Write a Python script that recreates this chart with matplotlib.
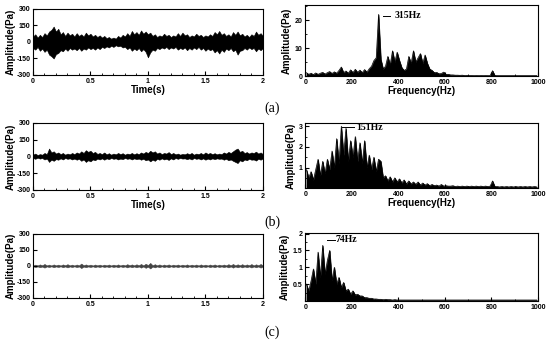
import numpy as np
import matplotlib.pyplot as plt
from matplotlib.ticker import MultipleLocator, FixedLocator

plt.rcParams['font.family'] = ['Liberation Sans', 'DejaVu Sans']

# time signals, upper / lower envelope read every 0.02 s (Pa)
time_s = np.linspace(0, 2, 101)
sig_a_hi = [50, 70, 40, 65, 45, 80, 60, 95, 110, 140, 95, 120, 70, 90, 55, 85, 60, 75, 50, 80,
            55, 70, 50, 85, 60, 75, 50, 65, 45, 60, 40, 55, 35, 45, 30, 40, 30, 55, 40, 65,
            50, 80, 55, 100, 70, 90, 65, 105, 75, 95, 70, 85, 55, 70, 45, 60, 50, 75, 55, 65,
            45, 60, 50, 80, 55, 85, 60, 70, 45, 60, 50, 75, 55, 65, 45, 60, 50, 70, 55, 90,
            70, 100, 65, 80, 55, 70, 50, 90, 65, 95, 60, 75, 50, 65, 45, 70, 55, 95, 65, 80, 55]
sig_a_lo = [-55, -70, -45, -80, -60, -90, -70, -115, -130, -150, -110, -100, -75, -85, -60, -80, -55, -70, -60, -75,
            -55, -80, -60, -70, -50, -65, -55, -70, -50, -65, -45, -55, -40, -50, -35, -45, -30, -40, -35, -50,
            -45, -65, -50, -80, -60, -75, -55, -85, -65, -90, -140, -95, -70, -80, -55, -65, -50, -60, -45, -65,
            -50, -60, -45, -70, -55, -65, -50, -75, -55, -70, -50, -65, -45, -70, -55, -80, -60, -75, -65, -95,
            -75, -105, -70, -90, -60, -75, -55, -85, -70, -115, -80, -75, -55, -70, -50, -65, -55, -85, -60, -75, -55]
sig_b_hi = [15, 25, 12, 20, 15, 30, 20, 70, 35, 45, 25, 35, 20, 30, 15, 25, 18, 30, 20, 35,
            25, 45, 30, 55, 40, 50, 30, 40, 22, 30, 20, 35, 18, 28, 15, 25, 18, 30, 20, 28,
            15, 25, 20, 30, 18, 28, 20, 35, 25, 40, 30, 50, 35, 45, 25, 35, 20, 30, 25, 38,
            20, 30, 18, 25, 15, 22, 18, 28, 20, 30, 15, 25, 20, 30, 18, 35, 22, 30, 20, 28,
            18, 25, 20, 35, 25, 40, 30, 45, 60, 70, 40, 50, 30, 38, 25, 35, 30, 42, 25, 35, 20]
sig_b_lo = [-15, -22, -12, -20, -15, -28, -20, -50, -30, -40, -25, -30, -18, -28, -15, -22, -18, -28, -20, -30,
            -22, -40, -28, -50, -35, -45, -28, -35, -20, -28, -18, -30, -18, -25, -15, -22, -18, -28, -20, -25,
            -15, -22, -18, -28, -18, -25, -20, -30, -22, -35, -28, -45, -30, -40, -22, -30, -18, -28, -22, -32,
            -18, -28, -15, -22, -15, -20, -18, -25, -18, -28, -15, -22, -18, -28, -18, -30, -20, -28, -18, -25,
            -18, -22, -20, -30, -22, -35, -28, -40, -50, -60, -35, -45, -28, -35, -22, -30, -28, -38, -22, -30, -18]
sig_c_hi = [4, 12, 5, 14, 6, 18, 5, 12, 4, 14, 5, 12, 4, 14, 6, 16, 5, 12, 4, 13,
            5, 22, 6, 14, 5, 12, 4, 13, 5, 12, 4, 12, 5, 13, 4, 12, 5, 14, 4, 12,
            5, 16, 6, 14, 5, 15, 6, 18, 5, 20, 8, 28, 6, 16, 5, 14, 4, 13, 5, 14,
            4, 12, 5, 13, 4, 12, 5, 14, 4, 12, 5, 13, 4, 14, 5, 12, 4, 13, 5, 14,
            4, 12, 5, 13, 5, 16, 6, 18, 5, 15, 6, 16, 5, 14, 6, 17, 5, 15, 6, 18, 5]
sig_c_lo = [-4, -10, -5, -12, -6, -16, -5, -10, -4, -12, -5, -10, -4, -12, -5, -14, -5, -10, -4, -11,
            -5, -20, -6, -12, -5, -10, -4, -11, -5, -10, -4, -10, -5, -11, -4, -10, -5, -12, -4, -10,
            -5, -14, -5, -12, -5, -13, -5, -16, -5, -18, -7, -24, -6, -14, -5, -12, -4, -11, -5, -12,
            -4, -10, -5, -11, -4, -10, -5, -12, -4, -10, -5, -11, -4, -12, -5, -10, -4, -11, -5, -12,
            -4, -10, -5, -11, -5, -14, -5, -16, -5, -13, -5, -14, -5, -12, -5, -15, -5, -13, -5, -16, -5]

# spectra, read every 10 Hz (Pa)
freq_hz = np.arange(5, 1000, 10)
spec_a = [1.2, 0.6, 1.0, 0.5, 1.1, 0.6, 1.0, 1.3, 0.7, 1.2,
          1.6, 0.9, 1.5, 1.0, 2.0, 3.2, 1.2, 1.8, 1.0, 2.2,
          1.2, 2.4, 1.3, 2.1, 1.2, 2.3, 1.4, 2.6, 3.5, 5.5,
          6.5, 22.0, 6.0, 2.5, 3.5, 7.0, 4.0, 9.0, 5.0, 8.5,
          5.5, 3.0, 2.0, 2.5, 7.0, 4.5, 9.0, 5.0, 6.5, 8.0,
          4.5, 7.5, 4.5, 2.5, 2.0, 1.2, 1.3, 0.8, 0.9, 1.4,
          0.6, 0.6, 0.4, 0.4, 0.3, 0.3, 0.25, 0.3, 0.2, 0.25,
          0.2, 0.2, 0.15, 0.2, 0.15, 0.2, 0.15, 0.2, 0.15, 0.2,
          1.9, 0.2, 0.15, 0.15, 0.15, 0.15, 0.15, 0.15, 0.15, 0.15,
          0.15, 0.15, 0.15, 0.15, 0.15, 0.15, 0.15, 0.15, 0.15, 0.15]
spec_b = [0.9, 0.5, 0.8, 0.4, 0.9, 1.4, 0.6, 1.3, 0.7, 1.4,
          0.9, 1.8, 1.0, 2.4, 1.2, 3.0, 1.6, 2.9, 1.3, 2.3,
          1.5, 2.5, 1.3, 2.2, 1.2, 2.3, 1.0, 1.6, 0.9, 1.5,
          0.8, 1.4, 1.3, 0.5, 0.6, 0.35, 0.55, 0.3, 0.5, 0.3,
          0.45, 0.25, 0.4, 0.2, 0.35, 0.2, 0.3, 0.18, 0.3, 0.15,
          0.25, 0.15, 0.22, 0.12, 0.18, 0.12, 0.15, 0.1, 0.18, 0.1,
          0.12, 0.1, 0.1, 0.12, 0.08, 0.1, 0.08, 0.1, 0.08, 0.1,
          0.08, 0.1, 0.08, 0.1, 0.08, 0.1, 0.08, 0.1, 0.08, 0.1,
          0.35, 0.08, 0.08, 0.06, 0.08, 0.06, 0.08, 0.06, 0.08, 0.06,
          0.08, 0.06, 0.08, 0.06, 0.08, 0.06, 0.08, 0.06, 0.08, 0.06]
spec_c = [0.5, 0.3, 0.6, 0.95, 0.5, 1.45, 0.7, 1.65, 0.8, 1.2,
          1.5, 0.6, 1.0, 0.5, 0.7, 0.4, 0.55, 0.3, 0.35, 0.2,
          0.3, 0.18, 0.2, 0.15, 0.15, 0.1, 0.1, 0.08, 0.08, 0.06,
          0.06, 0.05, 0.05, 0.04, 0.05, 0.04, 0.04, 0.03, 0.04, 0.03,
          0.03, 0.03, 0.03, 0.03, 0.03, 0.03, 0.03, 0.03, 0.03, 0.03,
          0.03, 0.03, 0.03, 0.03, 0.03, 0.03, 0.03, 0.03, 0.03, 0.03,
          0.03, 0.03, 0.03, 0.03, 0.03, 0.03, 0.03, 0.03, 0.03, 0.03,
          0.03, 0.03, 0.03, 0.03, 0.03, 0.03, 0.03, 0.03, 0.03, 0.03,
          0.03, 0.03, 0.03, 0.03, 0.03, 0.03, 0.03, 0.03, 0.03, 0.03,
          0.03, 0.03, 0.03, 0.03, 0.03, 0.03, 0.03, 0.03, 0.03, 0.03]

peak_labels = ['315Hz', '151Hz', '74Hz']
row_labels = ['(a)', '(b)', '(c)']

rows = [
    {'sig': (sig_a_hi, sig_a_lo, 'black'), 'spec': spec_a, 'ylim': 25.3,
     'yticks': [0, 10, 20], 'yminor': 5, 'peak': (335, 365, 21.5, 386),
     'left': [0.060, 0.782, 0.418, 0.192], 'right': [0.555, 0.779, 0.423, 0.206],
     'xlabel': True, 'label_y': 108},
    {'sig': (sig_b_hi, sig_b_lo, 'black'), 'spec': spec_b, 'ylim': 3.15,
     'yticks': [1, 2, 3], 'yminor': 0.5, 'peak': (157, 211, 2.95, 218),
     'left': [0.060, 0.448, 0.418, 0.195], 'right': [0.555, 0.453, 0.423, 0.189],
     'xlabel': True, 'label_y': 222},
    {'sig': (sig_c_hi, sig_c_lo, '#444444'), 'spec': spec_c, 'ylim': 2.02,
     'yticks': [0.5, 1, 1.5, 2], 'yminor': 0.25, 'peak': (94, 126, 1.82, 132),
     'left': [0.060, 0.134, 0.418, 0.186], 'right': [0.555, 0.125, 0.423, 0.198],
     'xlabel': False, 'label_y': 332},
]

fig = plt.figure(figsize=(5.5, 3.44), dpi=100)


def style(ax):
    ax.tick_params(which='both', direction='in', labelsize=5, pad=2)
    ax.tick_params(which='major', length=3, width=0.8)
    ax.tick_params(which='minor', length=1.5, width=0.6)
    for lab in ax.get_xticklabels() + ax.get_yticklabels():
        lab.set_fontweight('bold')
    for sp in ax.spines.values():
        sp.set_linewidth(0.8)


for i, r in enumerate(rows):
    hi, lo, col = r['sig']
    ax = fig.add_axes(r['left'])
    ax.fill_between(time_s, lo, hi, color=col, lw=0.4)
    ax.set_xlim(0, 2)
    ax.set_ylim(-300, 300)
    ax.set_xticks([0, 0.5, 1, 1.5, 2])
    ax.set_xticklabels(['0', '0.5', '1', '1.5', '2'])
    ax.xaxis.set_minor_locator(MultipleLocator(0.1))
    ax.set_yticks([-300, -150, 0, 150, 300])
    ax.set_yticklabels(['-300', '-150', '0', '150', '300'])
    style(ax)
    ax.set_ylabel('Amplitude(Pa)', fontsize=7, fontweight='bold', labelpad=0)
    if r['xlabel']:
        ax.set_xlabel('Time(s)', fontsize=7, fontweight='bold', labelpad=0)

    ax2 = fig.add_axes(r['right'])
    ax2.fill_between(freq_hz, 0, r['spec'], color='black', lw=0.4)
    ax2.plot(freq_hz, r['spec'], color='black', lw=0.5)
    ax2.set_xlim(0, 1000)
    ax2.set_ylim(0, r['ylim'])
    ax2.set_xticks([0, 200, 400, 600, 800, 1000])
    ax2.xaxis.set_minor_locator(MultipleLocator(100))
    ax2.yaxis.set_major_locator(FixedLocator(r['yticks']))
    ax2.set_yticklabels([f'{t:g}' for t in r['yticks']])
    ax2.yaxis.set_minor_locator(MultipleLocator(r['yminor']))
    style(ax2)
    ax2.set_ylabel('Amplitude(Pa)', fontsize=7, fontweight='bold', labelpad=2)
    if r['xlabel']:
        ax2.set_xlabel('Frequency(Hz)', fontsize=7, fontweight='bold', labelpad=0)

    x0, x1, yp, xt = r['peak']
    ax2.plot([x0, x1], [yp, yp], color='black', lw=0.7)
    ax2.text(xt, yp, peak_labels[i], fontsize=7, fontweight='bold',
             family=['Liberation Serif', 'DejaVu Serif'], va='center', ha='left')

    fig.text(272 / 550, 1 - r['label_y'] / 344, row_labels[i], fontsize=10,
             family=['Liberation Serif', 'DejaVu Serif'], ha='center', va='center')

fig.savefig('out.png', dpi=100)
